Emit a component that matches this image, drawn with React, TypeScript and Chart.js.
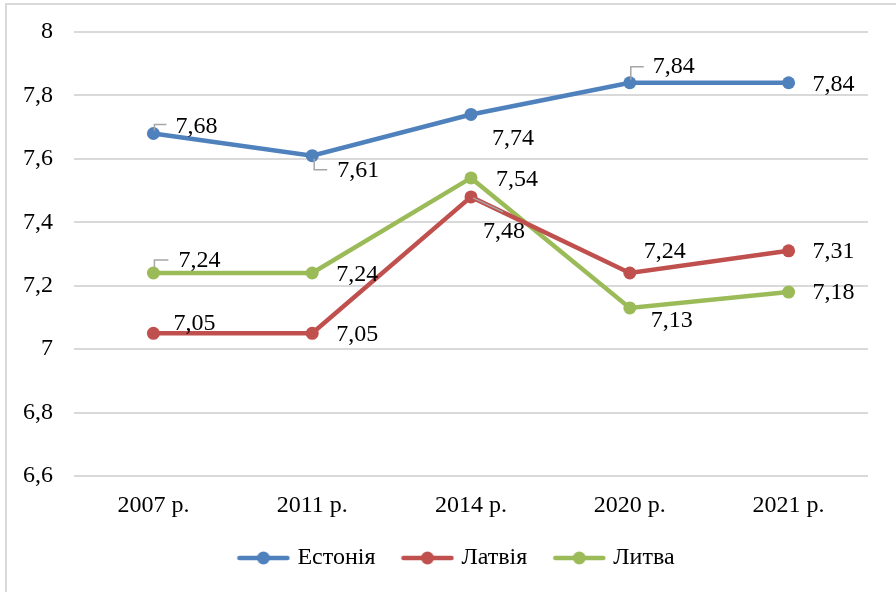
import React, { useEffect, useRef } from "react";
import { Chart, registerables } from "chart.js";

Chart.register(...registerables);

const categories = ["2007 р.", "2011 р.", "2014 р.", "2020 р.", "2021 р."];
const estonia = [7.68, 7.61, 7.74, 7.84, 7.84];
const latvia = [7.05, 7.05, 7.48, 7.24, 7.31];
const lithuania = [7.24, 7.24, 7.54, 7.13, 7.18];
const seriesNames = ["Естонія", "Латвія", "Литва"];
const seriesColors = ["#4F81BD", "#C0504D", "#9BBB59"];

// label placement: [dx, dy] relative to point, plus optional leader polyline (relative)
type LabelPos = { dx: number; dy: number; leader?: number[][] };
const labelPlacement: LabelPos[][] = [
  [
    { dx: 22, dy: -7, leader: [[1, -3], [1, -9], [13, -9]] },
    { dx: 25, dy: 15, leader: [[2, 3], [2, 14], [15, 14]] },
    { dx: 21, dy: 24 },
    { dx: 23, dy: -16, leader: [[1, -3], [1, -16], [14, -16]] },
    { dx: 24, dy: 2 },
  ],
  [
    { dx: 20, dy: -10 },
    { dx: 24, dy: 1 },
    { dx: 12, dy: 35, leader: [[2, 1], [32, 15]] },
    { dx: 14, dy: -21 },
    { dx: 24, dy: 1 },
  ],
  [
    { dx: 25, dy: -12, leader: [[1, -5], [1, -13], [15, -13]] },
    { dx: 24, dy: 2 },
    { dx: 25, dy: 2 },
    { dx: 21, dy: 13 },
    { dx: 24, dy: 1 },
  ],
];

const FONT = "'Liberation Serif', 'Times New Roman', serif";
const FS = 24;
const LEGEND_SHIFT_X = 24;
const LEGEND_SHIFT_Y = -8;
const fmt = (v: number) => String(v).replace(".", ",");

function legendImage(color: string): HTMLCanvasElement {
  const c = document.createElement("canvas");
  c.width = 54;
  c.height = 14;
  const g = c.getContext("2d")!;
  g.strokeStyle = color;
  g.lineWidth = 4.5;
  g.lineCap = "round";
  g.beginPath();
  g.moveTo(3, 7);
  g.lineTo(51, 7);
  g.stroke();
  g.fillStyle = color;
  g.beginPath();
  g.arc(27, 7, 6.5, 0, Math.PI * 2);
  g.fill();
  return c;
}

export default function App() {
  const ref = useRef<HTMLCanvasElement | null>(null);

  useEffect(() => {
    document.body.style.margin = "0";
    const canvas = ref.current!;
    const images = seriesColors.map(legendImage);

    const labelPlugin = {
      id: "valueLabels",
      afterLayout(chart: any) {
        const lg = chart.legend;
        if (lg) {
          lg.left += LEGEND_SHIFT_X;
          lg.right += LEGEND_SHIFT_X;
          lg.top += LEGEND_SHIFT_Y;
          lg.bottom += LEGEND_SHIFT_Y;
        }
      },
      afterDatasetsDraw(chart: any) {
        const ctx = chart.ctx;
        ctx.save();
        chart.data.datasets.forEach((ds: any, di: number) => {
          const meta = chart.getDatasetMeta(di);
          meta.data.forEach((pt: any, i: number) => {
            const pos = labelPlacement[di][i];
            const x = pt.x;
            const y = pt.y;
            if (pos.leader) {
              ctx.strokeStyle = "#a6a6a6";
              ctx.lineWidth = 1.5;
              ctx.beginPath();
              pos.leader.forEach((p, k) => {
                if (k === 0) ctx.moveTo(x + p[0], y + p[1]);
                else ctx.lineTo(x + p[0], y + p[1]);
              });
              ctx.stroke();
            }
            ctx.fillStyle = "#000";
            ctx.font = `${FS}px ${FONT}`;
            ctx.textAlign = "left";
            ctx.textBaseline = "middle";
            ctx.fillText(fmt(ds.data[i]), x + pos.dx, y + pos.dy);
          });
        });
        ctx.restore();
      },
      afterDraw(chart: any) {
        const ctx = chart.ctx;
        ctx.save();
        ctx.fillStyle = "#d9d9d9";
        ctx.fillRect(5, 3, 2, chart.height - 3);
        ctx.fillRect(5, 3, chart.width - 5, 2);
        ctx.restore();
      },
    };

    const data = [estonia, latvia, lithuania];
    const chart = new Chart(canvas, {
      type: "line",
      data: {
        labels: categories,
        datasets: data.map((d, i) => ({
          label: seriesNames[i],
          data: d,
          borderColor: seriesColors[i],
          backgroundColor: seriesColors[i],
          borderWidth: 4.5,
          pointRadius: 6.5,
          pointBorderWidth: 0,
          pointBackgroundColor: seriesColors[i],
          tension: 0,
        })),
      },
      options: {
        responsive: false,
        animation: false,
        layout: { padding: { top: 32, right: 28, bottom: 4, left: 0 } },
        scales: {
          x: {
            offset: true,
            grid: { display: false, drawTicks: false },
            border: { display: false },
            ticks: { color: "#000", font: { family: FONT, size: FS }, padding: 15, maxRotation: 0 },
            afterFit: (s: any) => {
              s.height = 48;
            },
          },
          y: {
            min: 6.6,
            max: 8,
            grid: { color: "#d9d9d9", lineWidth: 2, drawTicks: false },
            border: { display: false },
            ticks: {
              stepSize: 0.2,
              color: "#000",
              font: { family: FONT, size: FS },
              padding: 21,
              callback: (v: any) => fmt(Math.round(Number(v) * 10) / 10),
            },
            afterFit: (s: any) => {
              s.width = 74;
              s.paddingTop = 0;
              s.paddingBottom = 0;
            },
          },
        },
        plugins: {
          tooltip: { enabled: false },
          legend: {
            position: "bottom",
            labels: {
              usePointStyle: true,
              pointStyleWidth: 44,
              padding: 30,
              color: "#000",
              font: { family: FONT, size: FS },
              generateLabels: (c: any) =>
                c.data.datasets.map((ds: any, i: number) => ({
                  text: ds.label,
                  datasetIndex: i,
                  hidden: false,
                  fillStyle: seriesColors[i],
                  strokeStyle: seriesColors[i],
                  lineWidth: 0,
                  pointStyle: images[i],
                  fontColor: "#000",
                })),
            },
          },
        },
      },
      plugins: [labelPlugin],
    } as any);

    return () => chart.destroy();
  }, []);

  return (
    <div style={{ width: 896, height: 592, background: "#fff" }}>
      <canvas ref={ref} width={896} height={592} />
    </div>
  );
}
